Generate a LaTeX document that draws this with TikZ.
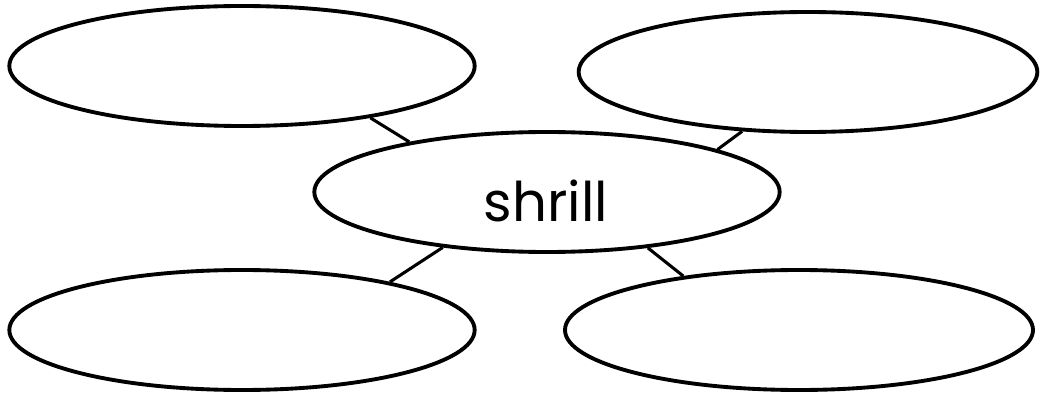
\documentclass[tikz,border=0pt]{standalone}
\usepackage{fontspec}
\setmainfont{Poppins}
\usetikzlibrary{shapes.geometric}
\begin{document}
\begin{tikzpicture}[x=0.75pt,y=-0.75pt,
  bubble/.style={ellipse, draw=black, line width=2.9pt, inner sep=0pt,
    minimum width=349pt, minimum height=90pt},
  word/.style={inner sep=0pt, font=\fontsize{41}{48}\selectfont},
  link/.style={draw=black, line width=2.3pt}]
\useasboundingbox (0,0) rectangle (1041,395);
% outer bubbles
\node[bubble] (tl) at (242,66) {};
\node[bubble, minimum width=344pt] (tr) at (808,72) {};
\node[bubble] (bl) at (242,330) {};
\node[bubble, minimum width=351pt] (br) at (799,330) {};
% central bubble and its word
\node[bubble] (c) at (547,192) {};
\node[word] (w) at (546,201) {shrill};
% spokes (angles are directions from each bubble's centre)
\draw[link] (c.160) -- (tl.-22);
\draw[link] (c.14) -- (tr.-138);
\draw[link] (c.-152) -- (bl.18);
\draw[link] (c.-29) -- (br.155);
\end{tikzpicture}
\end{document}
